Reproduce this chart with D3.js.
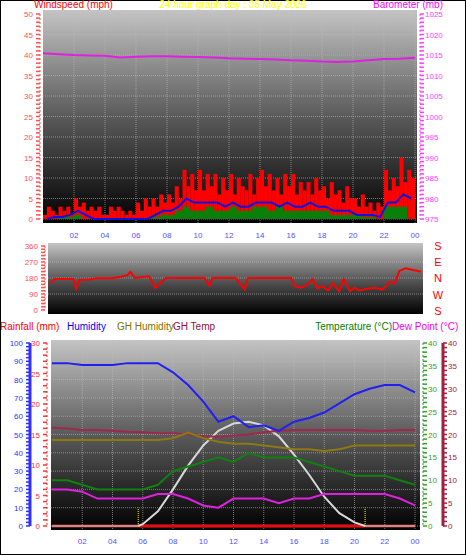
<!DOCTYPE html><html><head><meta charset="utf-8">
<script src="https://cdn.jsdelivr.net/npm/d3@7"></script>
<style>body{margin:0;background:#fff}svg{display:block}text{font-family:"Liberation Sans",Arial,sans-serif}</style></head><body>
<script>
// ---- data ----
const quarterHours = d3.range(96).map(i=>i/4);
const halfHours = d3.range(48).map(i=>i/2);
const windGust = [1,3,2,1, 3,2,3,1, 5,3,4,2, 3,2,3,1, 1,3,2,3, 2,1,2,1, 4,2,5,3, 5,3,6,4, 6,4,8,5, 12,8,11,7, 12,7,11,8, 11,6,10,7, 11,6,10,8, 7,11,6,10, 12,8,11,7, 10,6,11,8, 11,6,9,7, 9,6,10,7, 8,5,9,6, 7,4,8,5, 5,3,6,3, 4,2,4,3, 12,7,10,8, 15,9,12,10];
const windAvg  = [0,0.5,0.5,1,2,1,0,0,0,0,0,0,0,0,1,2,2,3,5,4,4,4,4,3,4,3,3,4,4,4,3,4,3,3,4,3,3,2,2,2,1,1,1,0.5,4,4,6,5];
const windLull = [0,0,0.5,0.5,1,0,0,0,0,0,0,0,0,0,0.5,1,1,2,3,2,2,3,2,2,3,2,2,3,3,2,3,2,2,2,2,2,2,1,1,1,1,0.5,0.5,0,3,3,3,2];
const hours = d3.range(25);
const barometer = [1015.4,1015.2,1015.0,1014.9,1014.8,1014.4,1014.6,1014.7,1014.7,1014.6,1014.5,1014.4,1014.2,1014.1,1014.0,1013.9,1013.7,1013.6,1013.4,1013.3,1013.4,1013.7,1014.0,1014.1,1014.3];
const dirHours = [0,0.3,1,1.5,1.7,1.9,2.5,3,4,4.5,5,5.2,5.5,6,6.4,6.6,6.8,7.5,9,10,10.3,10.5,11,12,12.6,12.8,14,15.6,15.8,16.2,16.6,17,17.3,17.6,18,18.3,18.7,19,19.4,19.7,20,20.5,21,21.5,22,22.3,22.6,23,23.5,24];
const windDir  = [150,175,175,175,120,170,170,178,178,185,195,215,180,185,190,160,125,180,180,180,135,180,180,180,115,180,180,180,135,125,140,175,120,135,110,150,105,175,105,125,110,120,125,115,160,150,220,235,225,215];
const humidity = [89,89,88,88,88,89,89,89,84,77,68,57,60,54,55,52,57,59,62,67,72,75,77,77,73];
const ghHumidity = [47,47,47,47,47,47,47,47,48,51,48,46,45,45,44,43,42,42,41,42,44,44,44,44,44];
const ghTemp = [21.5,21.3,21,21,20.8,20.6,20.5,20.3,20.3,20,19.6,19.5,19.8,20,20.5,20.8,21,21,21,21,21,20.8,20.8,21,21];
const temperature = [10,10,9,8,8,8,8,9,12,13,14,15,14,16,15,15,15,14,13,12,11,11,11,10,9];
const dewPoint = [8,8,7.5,6,6,6,6,7,7,6,4.5,4,6,6,6,5,6,6,7,7,7,7,7,6,4.5];
const solarHours = [5.7,6,7,8,9,10,11,12,13,14,15,16,17,18,19,20,20.7];
const solar = [0,1,8,20,33,44,52,56,57,55,49,39,28,16,7,2,0];
const rainfall = hours.map(()=>0);
const xTicks = ["02","04","06","08","10","12","14","16","18","20","22","00"];

const W=466,H=555;
const svg=d3.select("body").append("svg").attr("width",W).attr("height",H);
svg.append("rect").attr("x",0.5).attr("y",0.5).attr("width",W-1).attr("height",H-1).attr("fill","#fff").attr("stroke","#000");
const defs=svg.append("defs");
const g=defs.append("linearGradient").attr("id","bg").attr("x1",0).attr("x2",0).attr("y1",0).attr("y2",1);
g.append("stop").attr("offset","0").attr("stop-color","#c4c4c4");
g.append("stop").attr("offset","0.5").attr("stop-color","#5a5a5a");
g.append("stop").attr("offset","1").attr("stop-color","#000");

function panel(x0,x1,y0,y1){
  svg.append("rect").attr("x",x0).attr("y",y0).attr("width",x1-x0).attr("height",y1-y0).attr("fill","url(#bg)");
}
function grid(x,y,xv,yv,x0,x1,y0,y1){
  const gg=svg.append("g").attr("stroke","#bbb").attr("stroke-opacity",0.6).attr("stroke-dasharray","1,1");
  xv.forEach(v=>gg.append("line").attr("x1",x(v)).attr("x2",x(v)).attr("y1",y0).attr("y2",y1));
  yv.forEach(v=>gg.append("line").attr("x1",x0).attr("x2",x1).attr("y1",y(v)).attr("y2",y(v)));
}
function txt(x,y,s,c,anchor,size){return svg.append("text").attr("x",x).attr("y",y).text(s).attr("fill",c).attr("text-anchor",anchor||"start").attr("font-size",size||10);}
function vAxis(x,scale,ticks,color,side,minor){
  svg.append("line").attr("x1",x).attr("x2",x).attr("y1",scale.range()[1]).attr("y2",scale.range()[0]).attr("stroke",color).attr("stroke-width",minor?3:1).attr("stroke-dasharray",minor?null:"2,2");
  const d=scale.domain();const step=(d[1]-d[0])/ (ticks.length-1)/5;
  for(let v=d[0];v<=d[1]+1e-9;v+=step){svg.append("line").attr("x1",x).attr("x2",x+(side<0?-4:4)).attr("y1",scale(v)).attr("y2",scale(v)).attr("stroke",color).attr("stroke-width",1.5);}
  ticks.forEach(v=>txt(side<0?x-7:x+5,scale(v)+3,v,color,side<0?"end":"start",8));
}

// ---- top panel ----
const xT=d3.scaleLinear().domain([0,24]).range([43,415]);
const yW=d3.scaleLinear().domain([0,50]).range([219,14]);
const yB=d3.scaleLinear().domain([975,1025]).range([219,14]);
panel(43,417,10,223);
grid(xT,yW,d3.range(2,25,2),d3.range(0,51,5),43,417,10,223);
const bw=(xT(0.25)-xT(0));
svg.append("g").selectAll("rect").data(windGust).join("rect").attr("x",(d,i)=>xT(quarterHours[i])).attr("width",bw+0.2).attr("y",d=>yW(d)).attr("height",d=>yW(0)-yW(d)).attr("fill","#ff0000");
svg.append("path").datum(windLull).attr("d",d3.area().x((d,i)=>xT(halfHours[i])).y0(yW(0)).y1(d=>yW(d)).curve(d3.curveStepAfter)).attr("fill","#0a800a");
svg.append("path").datum(windAvg).attr("d",d3.line().x((d,i)=>xT(halfHours[i]+0.25)).y(d=>yW(d))).attr("fill","none").attr("stroke","#1010e0").attr("stroke-width",2);
svg.append("path").datum(barometer).attr("d",d3.line().x((d,i)=>xT(hours[i])).y(d=>yB(d))).attr("fill","none").attr("stroke","#e020e0").attr("stroke-width",2);
vAxis(40,yW,d3.range(0,51,5),"#ff5050",-1);
vAxis(420,yB,d3.range(975,1026,5),"#ff40ff",1);
xTicks.forEach((t,i)=>txt(xT(2*(i+1)),238,t,"#5050ff","middle",8));
txt(34,8,"Windspeed (mph)","#f00","start",10);
txt(233,8,"24 hour graph day : 05 May 2026","#ffff00","middle",10);
txt(443,8,"Barometer (mb)","#f0f","end",10);

// ---- middle panel ----
const xM=d3.scaleLinear().domain([0,24]).range([50,421]);
const yD=d3.scaleLinear().domain([0,360]).range([310,246]);
panel(48,423,243,314);
grid(xM,yD,[],[90,180,270],48,423,243,314);
svg.append("path").datum(windDir).attr("d",d3.line().x((d,i)=>xM(dirHours[i])).y(d=>yD(d))).attr("fill","none").attr("stroke","#f00").attr("stroke-width",2);
vAxis(45,yD,[0,90,180,270,360],"#ff5050",-1);
["S","E","N","W","S"].forEach((s,i)=>txt(438,250+i*16.2,s,"#f00","middle",11));

// ---- bottom panel ----
const xB=d3.scaleLinear().domain([0,24]).range([52,415]);
const yH=d3.scaleLinear().domain([0,100]).range([526,343]);
const yR=d3.scaleLinear().domain([0,30]).range([526,343]);
const yTm=d3.scaleLinear().domain([0,40]).range([526,343]);
panel(51,420,340,530);
grid(xB,yH,d3.range(2,25,2),d3.range(0,101,10),51,420,340,530);
svg.append("line").attr("x1",xB(0)).attr("x2",xB(24)).attr("y1",yR(0)).attr("y2",yR(0)).attr("stroke","#e08080").attr("stroke-width",2.5);
svg.append("line").attr("x1",xB(5.7)).attr("x2",xB(20.7)).attr("y1",yR(0)).attr("y2",yR(0)).attr("stroke","#f00").attr("stroke-width",2.5);
[5.7,20.7].forEach(h=>svg.append("line").attr("x1",xB(h)).attr("x2",xB(h)).attr("y1",yH(0)).attr("y2",yH(10)).attr("stroke","#ff0").attr("stroke-dasharray","1,1"));
const ln=(arr,xs,y,c)=>svg.append("path").datum(arr).attr("d",d3.line().x((d,i)=>xB(xs[i])).y(d=>y(d))).attr("fill","none").attr("stroke",c).attr("stroke-width",2);
ln(solar,solarHours,yH,"#d8d8d8");
ln(ghTemp,hours,yTm,"#a0284c");
ln(ghHumidity,hours,yH,"#8c7a10");
ln(temperature,hours,yTm,"#108010");
ln(dewPoint,hours,yTm,"#e020e0");
ln(humidity,hours,yH,"#2020f0");
ln(rainfall,hours,yR,"#f00").attr("stroke-opacity",0);
vAxis(30,yH,d3.range(0,101,10),"#3030ff",-1,true);
vAxis(47,yR,d3.range(0,31,5),"#ff3030",-1);
vAxis(423,yTm,d3.range(0,41,5),"#30a030",1);
vAxis(443,yTm,d3.range(0,41,5),"#a02040",1,true);
xTicks.forEach((t,i)=>txt(xB(2*(i+1)),544,t,"#5050ff","middle",8));
txt(0,330,"Rainfall (mm)","#f00","start",10);
txt(67,330,"Humidity","#0000f0","start",10);
txt(117,330,"GH Humidity","#807000","start",10);
txt(173,330,"GH Temp","#901040","start",10);
txt(392,330,"Temperature (°C)","#008000","end",10);
txt(392,330,"Dew Point (°C)","#f000f0","start",10);
</script></body></html>
